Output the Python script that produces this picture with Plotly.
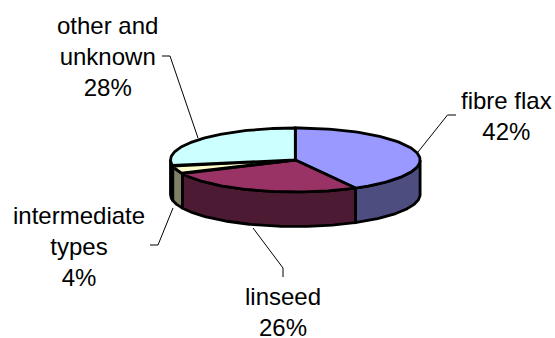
import numpy as np
import plotly.graph_objects as go

# Flax types and their shares in percent
categories = ["fibre flax", "linseed", "intermediate<br>types", "other and<br>unknown"]
shares = [42, 26, 4, 28]
top_colors = ["#9999FF", "#993366", "#FFFFCC", "#CCFFFF"]
side_colors = ["#4D4D80", "#4D1A33", "#808066", "#668080"]

# Tilted-disc geometry, in page pixels
CX, CY, RX, RY, DEPTH = 295.3, 160.0, 124.8, 32.0, 34.5

# Label anchors and leader polylines, in page pixels
label_xy = [(506, 116), (283, 312), (79, 246), (107, 56)]
leaders = [
    [(418, 152), (447.5, 115), (456, 115)],
    [(253, 228), (283, 268), (283, 277)],
    [(173, 208), (158, 245), (150, 245)],
    [(198, 138), (170, 56), (162, 56)],
]


def arc(a0, a1, dy=0.0):
    """Points along the rim between two clockwise angles measured from 12 o'clock."""
    t = np.radians(np.linspace(a0, a1, 90))
    return CX + RX * np.sin(t), CY - RY * np.cos(t) + dy


edges = np.cumsum([0] + shares) / sum(shares) * 360
fig = go.Figure()


def polygon(xs, ys, color):
    fig.add_trace(go.Scatter(
        x=xs, y=ys, mode="lines", fill="toself", fillcolor=color,
        line=dict(color="black", width=2.8), hoverinfo="skip", showlegend=False,
    ))


# Outer wall: only the front half of the disc is visible
for a0, a1, color in zip(edges[:-1], edges[1:], side_colors):
    lo, hi = max(a0, 90), min(a1, 270)
    if lo < hi:
        xt, yt = arc(lo, hi)
        xb, yb = arc(hi, lo, DEPTH)
        polygon(np.r_[xt, xb, xt[0]], np.r_[yt, yb, yt[0]], color)

# Top face wedges
for a0, a1, color in zip(edges[:-1], edges[1:], top_colors):
    xt, yt = arc(a0, a1)
    polygon(np.r_[CX, xt, CX], np.r_[CY, yt, CY], color)

# Leader lines
for pts in leaders:
    xs, ys = zip(*pts)
    fig.add_trace(go.Scatter(
        x=xs, y=ys, mode="lines", line=dict(color="black", width=1),
        hoverinfo="skip", showlegend=False,
    ))

# Category labels with their percentages
for name, share, (x, y) in zip(categories, shares, label_xy):
    fig.add_annotation(
        x=x, y=y, text=f"{name}<br>{share}%", showarrow=False,
        xanchor="center", yanchor="middle", align="center",
        font=dict(family="Liberation Sans", size=24, color="black"),
    )

fig.update_layout(
    width=555, height=338, margin=dict(l=0, r=0, t=0, b=0),
    paper_bgcolor="white", plot_bgcolor="white", showlegend=False,
    xaxis=dict(range=[0, 555], visible=False, fixedrange=True),
    yaxis=dict(range=[338, 0], visible=False, fixedrange=True),
)
fig.write_html("out.html", config={"displayModeBar": False})
